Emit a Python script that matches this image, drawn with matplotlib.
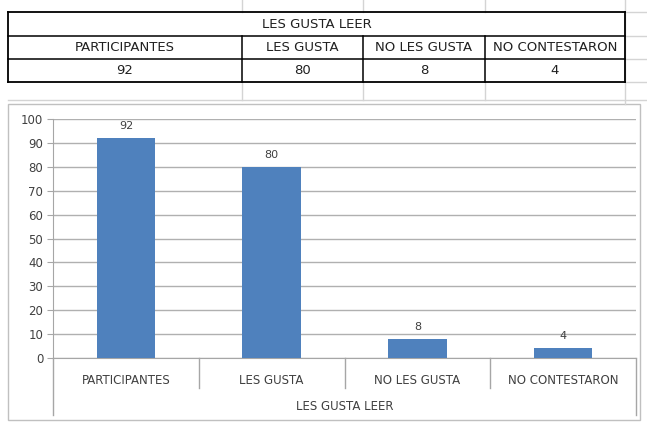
import matplotlib
matplotlib.use("Agg")
import matplotlib.pyplot as plt
from matplotlib.lines import Line2D

# data
title = "LES GUSTA LEER"
categories = ["PARTICIPANTES", "LES GUSTA", "NO LES GUSTA", "NO CONTESTARON"]
values = [92, 80, 8, 4]
y_ticks = [0, 10, 20, 30, 40, 50, 60, 70, 80, 90, 100]

W, H = 647, 423
FONT = ["Liberation Sans Narrow", "DejaVu Sans"]
plt.rcParams["font.family"] = FONT

fig = plt.figure(figsize=(W / 100, H / 100), dpi=100)
fig.patch.set_facecolor("white")


def fx(x):
    return x / W


def fy(y):
    return 1 - y / H


def hline(x0, x1, y, color="black", lw=1.0):
    fig.add_artist(Line2D([fx(x0), fx(x1)], [fy(y), fy(y)], color=color, lw=lw,
                          transform=fig.transFigure))


def vline(x, y0, y1, color="black", lw=1.0):
    fig.add_artist(Line2D([fx(x), fx(x)], [fy(y0), fy(y1)], color=color, lw=lw,
                          transform=fig.transFigure))


# --- spreadsheet table ---
grid = "#d4d4d4"
cols = [8, 242, 363, 485, 625]
rows = [12, 36, 59, 82]
for x in cols[1:4]:
    vline(x, 0, 12, color=grid)
    vline(x, 82, 100, color=grid)
vline(625, 0, 104, color=grid)
for y in rows:
    hline(625, 647, y, color=grid)
hline(8, 647, 100, color=grid)

hline(cols[0], cols[-1], rows[0], lw=1.3)
hline(cols[0], cols[-1], rows[1], lw=1.1)
hline(cols[0], cols[-1], rows[2], lw=1.1)
hline(cols[0], cols[-1], rows[3], lw=1.3)
vline(cols[0], rows[0], rows[3], lw=1.3)
vline(cols[-1], rows[0], rows[3], lw=1.3)
for x in cols[1:4]:
    vline(x, rows[1], rows[3], lw=1.1)

tc = "#202020"
fig.text(fx((cols[0] + cols[-1]) / 2), fy((rows[0] + rows[1]) / 2), title,
         ha="center", va="center", fontsize=9.5, color=tc)
for i, (cat, val) in enumerate(zip(categories, values)):
    cx = (cols[i] + cols[i + 1]) / 2
    fig.text(fx(cx), fy((rows[1] + rows[2]) / 2), cat, ha="center", va="center",
             fontsize=9.5, color=tc)
    fig.text(fx(cx), fy((rows[2] + rows[3]) / 2), str(val), ha="center", va="center",
             fontsize=9.5, color=tc)

# --- chart box ---
box = plt.Rectangle((fx(8), fy(420)), fx(640) - fx(8), fy(104) - fy(420),
                    transform=fig.transFigure, fill=False, edgecolor="#c0c0c0", lw=1.0)
fig.add_artist(box)

left, right, top, bottom = 53, 636, 119, 358
ax = fig.add_axes([fx(left), fy(bottom), fx(right) - fx(left), fy(top) - fy(bottom)])
ax.set_facecolor("none")

x = list(range(len(categories)))
ax.bar(x, values, width=0.4, color="#4F81BD", zorder=3)
for xi, v in zip(x, values):
    ax.annotate(str(v), (xi, v), xytext=(0, 5), textcoords="offset points",
                ha="center", va="bottom", fontsize=8, color="#404040")

ax.set_xlim(-0.5, len(categories) - 0.5)
ax.set_ylim(0, 100)
ax.set_yticks(y_ticks)
ax.yaxis.grid(True, color="#b0b0b0", lw=1.0, zorder=0)
ax.tick_params(axis="y", length=4, color="#a6a6a6", labelsize=8.5, labelcolor="#404040", pad=3)
ax.set_xticks([])
for s in ["top", "right"]:
    ax.spines[s].set_visible(False)
ax.spines["left"].set_color("#a6a6a6")
ax.spines["bottom"].set_color("#a6a6a6")

# multi-level category axis
cw = (right - left) / len(categories)
for i in range(1, len(categories)):
    vline(left + i * cw, bottom, 388, color="#a6a6a6")
vline(left, bottom, 415, color="#a6a6a6")
vline(right, bottom, 415, color="#a6a6a6")
for i, cat in enumerate(categories):
    fig.text(fx(left + (i + 0.5) * cw), fy(380), cat, ha="center", va="center",
             fontsize=8.5, color="#404040")
fig.text(fx((left + right) / 2), fy(406), title, ha="center", va="center",
         fontsize=8.5, color="#404040")

fig.savefig("out.png", dpi=100)
